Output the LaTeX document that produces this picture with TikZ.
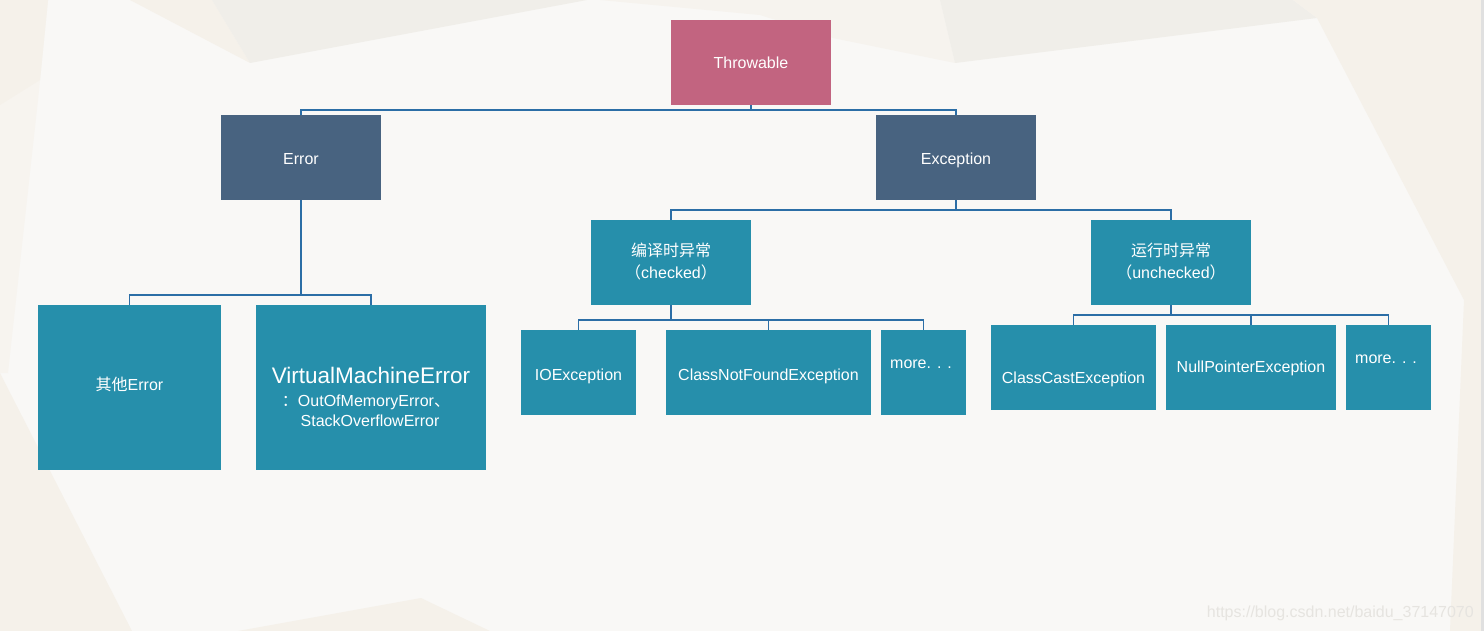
\documentclass[tikz,border=0pt]{standalone}
\usepackage{fontspec}
\setmainfont{Liberation Sans}
\newfontfamily\cjk{Noto Sans CJK SC}
\definecolor{bgbase}{HTML}{F9F8F6}
\definecolor{bggray}{HTML}{F0EEE9}
\definecolor{bgbeige}{HTML}{F5F1EA}
\definecolor{bglight}{HTML}{F7F4EF}
\definecolor{pinkc}{HTML}{C26480}
\definecolor{darkc}{HTML}{486380}
\definecolor{tealc}{HTML}{268FAB}
\definecolor{linec}{HTML}{2C6EA6}
\definecolor{markc}{HTML}{E6E4E0}
\tikzset{
  bx/.style={rectangle, inner sep=0pt},
  tb/.style={bx, fill=pinkc},
  db/.style={bx, fill=darkc},
  lb/.style={bx, fill=tealc},
  conn/.style={draw=linec, line width=1.2pt},
  wt/.style={inner sep=0pt, text=white, anchor=base, font=\fontsize{16}{20}\selectfont}
}
\begin{document}
\begin{tikzpicture}[x=1pt,y=-1pt]
% background
\fill[bgbase] (0,0) rectangle (1484,631);
\useasboundingbox (0,0) rectangle (1484,631);
\fill[bglight] (0,0) -- (48,0) -- (38,100) -- (8,373) -- (0,373) -- cycle;
\fill[bgbeige] (0,0) -- (48,0) -- (40,80) -- (0,105) -- cycle;
\fill[bgbeige] (0,373) -- (132,631) -- (0,631) -- cycle;
\fill[bgbeige] (130,0) -- (212,0) -- (250,63) -- cycle;
\fill[bggray] (212,0) -- (587,0) -- (250,63) -- cycle;
\fill[bgbeige!70!bgbase] (600,0) -- (940,0) -- (955,63) -- (833,38) -- (760,15) -- cycle;
\fill[bggray] (940,0) -- (1293,0) -- (1317,18) -- (955,63) -- cycle;
\fill[bgbeige] (1293,0) -- (1484,0) -- (1484,631) -- (1450,631) -- (1464,300) -- (1317,18) -- cycle;
\fill[bgbeige] (238,631) -- (421,598) -- (490,631) -- cycle;
\fill[black!12] (1481,0) rectangle (1484,631);

% boxes
\node[tb, minimum width=160pt, minimum height=85pt] (thr) at (751,62.5) {};
\node[db, minimum width=160pt, minimum height=85pt] (err) at (301,157.5) {};
\node[db, minimum width=160pt, minimum height=85pt] (exc) at (956,157.5) {};
\node[lb, minimum width=160pt, minimum height=85pt] (chk) at (671,262.5) {};
\node[lb, minimum width=160pt, minimum height=85pt] (unc) at (1171,262.5) {};
\node[lb, minimum width=183pt, minimum height=165pt] (oth) at (129.5,387.5) {};
\node[lb, minimum width=230pt, minimum height=165pt] (vme) at (371,387.5) {};
\node[lb, minimum width=115pt, minimum height=85pt] (ioe) at (578.5,372.5) {};
\node[lb, minimum width=205pt, minimum height=85pt] (cnf) at (768.5,372.5) {};
\node[lb, minimum width=85pt, minimum height=85pt] (mo1) at (923.5,372.5) {};
\node[lb, minimum width=165pt, minimum height=85pt] (cce) at (1073.5,367.5) {};
\node[lb, minimum width=170pt, minimum height=85pt] (npe) at (1251,367.5) {};
\node[lb, minimum width=85pt, minimum height=85pt] (mo2) at (1388.5,367.5) {};

% texts
\node[wt] (thrT) at (751,69) {Throwable};
\node[wt] (errT) at (301,165) {Error};
\node[wt] (excT) at (956,165) {Exception};
\node[wt] (chkT1) at (671,257) {\cjk 编译时异常};
\node[wt] (chkT2) at (671,279) {{\cjk （}checked{\cjk ）}};
\node[wt] (uncT1) at (1171,257) {\cjk 运行时异常};
\node[wt] (uncT2) at (1171,279) {{\cjk （}unchecked{\cjk ）}};
\node[wt] (othT) at (129.5,390) {{\cjk 其他}Error};
\node[wt, font=\fontsize{22.5}{27}\selectfont] (vme1) at (371,383) {VirtualMachineError};
\node[wt] (vme2) at (366,406) {{\cjk ：}OutOfMemoryError{\cjk 、}};
\node[wt] (vme3) at (370,426) {StackOverflowError};
\node[wt] (ioeT) at (578.5,380) {IOException};
\node[wt] (cnfT) at (768.5,380) {ClassNotFoundException};
\node[wt] (mo1T) at (921,368) {more. . .};
\node[wt] (cceT) at (1073.5,383) {ClassCastException};
\node[wt] (npeT) at (1251,372) {NullPointerException};
\node[wt] (mo2T) at (1386,363) {more. . .};

% junctions
\coordinate (j1) at (751,110);
\coordinate (j2) at (301,295);
\coordinate (j3) at (956,210);
\coordinate (j4) at (671,320);
\coordinate (j5) at (1171,315);

% connectors
\draw[conn] (thr.south) -- (j1);
\draw[conn] (err.north) |- (j1) -| (exc.north);
\draw[conn] (err.south) -- (j2);
\draw[conn] (oth.north) |- (j2) -| (vme.north);
\draw[conn] (exc.south) -- (j3);
\draw[conn] (chk.north) |- (j3) -| (unc.north);
\draw[conn] (chk.south) -- (j4);
\draw[conn] (ioe.north) |- (j4) -| (mo1.north);
\draw[conn] (cnf.north) -- (cnf.north |- j4);
\draw[conn] (unc.south) -- (j5);
\draw[conn] (cce.north) |- (j5) -| (mo2.north);
\draw[conn] (npe.north) -- (npe.north |- j5);

% watermark
\node[inner sep=0pt, text=markc, font=\fontsize{16}{20}\selectfont, anchor=base east] (wm) at (1474,617) {https://blog.csdn.net/baidu\_37147070};
\end{tikzpicture}
\end{document}
